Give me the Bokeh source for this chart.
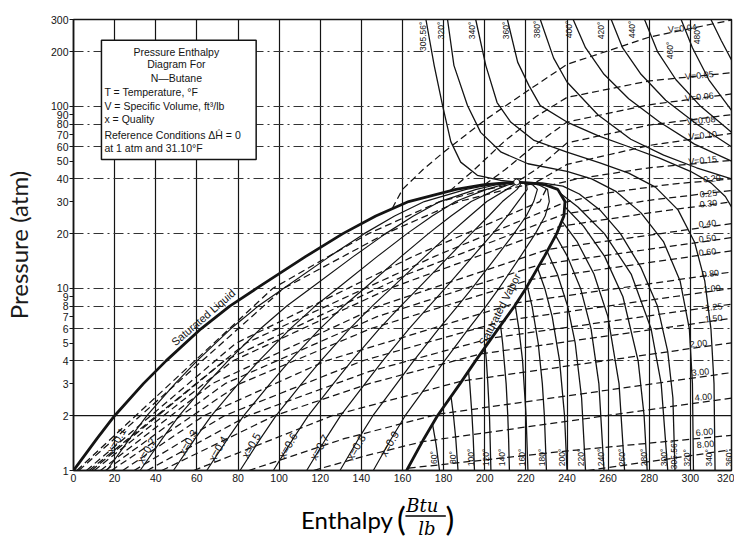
import numpy as np
from bokeh.plotting import figure
from bokeh.layouts import column
from bokeh.models import Range1d, FixedTicker, Label, NumeralTickFormatter, Span
from bokeh.embed import file_html
from bokeh.resources import INLINE

# ---------------- data ----------------
# saturation dome: pressure (atm), enthalpy of saturated liquid / vapor (Btu/lb)
P_SAT = [1, 1.5, 2, 3, 4, 6, 8, 10, 15, 20, 25, 30, 35, 37, 37.8, 38.4]
H_LIQ = [0, 11.5, 20, 34, 45, 62, 76, 89, 113, 131, 147, 163, 186, 199, 207, 215]
H_VAP = [162, 170.5, 177, 188, 195.5, 206.5, 214.5, 220, 229, 235, 238.5, 239, 235.5, 229.5, 224, 215.5]
CRIT_H = [215.5]
CRIT_P = [38.4]

# quality lines
QUALITY = [0.1, 0.2, 0.3, 0.4, 0.5, 0.6, 0.7, 0.8, 0.9]
QUALITY_TEXT = ["x=0.1", "x=0.2", "x=0.3", "x=0.4", "x=0.5", "x=0.6", "x=0.7", "x=0.8", "x=0.9"]

# isotherms starting on the saturated-vapor line (deg F)
T_SUB = ["60°", "80°", "100°", "120°", "140°", "160°", "180°", "200°", "220°", "240°", "260°", "280°", "300°"]
T_SUB_H = [
    [174.6, 176.3, 178],
    [183.6, 184.8, 185.9, 187],
    [192.1, 192.7, 193.8, 194.4, 195],
    [200.2, 200.8, 201.5, 202.3, 202.6, 203],
    [207.7, 208.7, 210.4, 211.2, 211.6, 212],
    [214.8, 216.6, 218.4, 220.1, 221],
    [220.7, 223, 226, 228, 229, 230],
    [225.7, 229.2, 232.8, 236.4, 238.8, 240],
    [230.3, 235.3, 240.3, 244, 247.1, 249],
    [234.5, 240.2, 246.6, 251.7, 255.5, 258],
    [237.5, 245, 253.1, 259.9, 265.3, 268],
    [238.8, 248, 258.3, 267.2, 274.6, 277.5, 279],
    [236.5, 245.3, 258.2, 271.2, 280.9, 285.8, 289],
]
T_SUB_P = [
    [1.8, 1.4, 1],
    [2.55, 2, 1.5, 1],
    [3.51, 3, 2, 1.5, 1],
    [4.75, 4, 3, 2, 1.5, 1],
    [6.26, 5, 3, 2, 1.5, 1],
    [8.1, 6, 4, 2, 1],
    [10.3, 8, 5, 3, 2, 1],
    [12.9, 10, 7, 4, 2, 1],
    [16, 12, 8, 5, 2.5, 1],
    [19.5, 15, 10, 6, 3, 1],
    [23.5, 18, 12, 7, 3, 1],
    [28.2, 22, 15, 9, 4, 2, 1],
    [33.4, 28, 20, 12, 6, 3, 1],
]

# critical and supercritical isotherms
T_SUP = ["305.56°", "320°", "340°", "360°", "380°", "400°", "420°", "440°", "460°", "480°"]
T_SUP_H = [
    [171.4, 175.4, 179.5, 183.5, 188.3, 196.4, 207.8, 215.5, 228, 238, 246, 256, 266, 276, 284, 289, 291.5, 292.5],
    [181.9, 185, 191.6, 198, 208, 221, 240, 252, 264, 276, 287, 295, 299.5, 301, 301.5],
    [195.6, 200.5, 206, 212.6, 224, 240, 256, 270, 283, 294, 302, 307, 310, 311.5, 312],
    [211, 216, 221.5, 227, 240, 255, 270, 285, 300, 310, 317, 320],
    [227, 233.5, 240, 255, 271, 287, 303, 320],
    [243, 249, 258, 270, 285, 302, 320],
    [261.5, 267, 276, 288, 303, 320],
    [277.7, 284, 293, 305, 320],
    [295.5, 301, 309, 320],
    [310, 315, 320],
]
T_SUP_P = [
    [300, 168, 101, 64, 49.4, 41.8, 39.2, 38.4, 38.0, 36.5, 33, 27, 20, 13, 8, 4.5, 2.5, 1],
    [300, 168, 101, 72, 56, 48.4, 44, 40, 34, 26, 18, 11, 6, 3, 1],
    [300, 168, 105, 82, 65, 56, 49, 43, 36, 27, 18, 11, 6, 3, 1],
    [300, 175, 130, 101, 82, 69, 60, 52, 44, 38, 32, 28],
    [300, 184, 136, 90, 66, 54, 46, 40],
    [300, 210, 150, 110, 82, 62, 50],
    [300, 210, 150, 108, 80, 60],
    [300, 200, 140, 100, 72],
    [300, 210, 140, 95],
    [300, 230, 180],
]

# specific volume lines (ft3/lb): two-phase part as (pressure, quality), then vapor part as (h, P)
V_TEXT = ["V=0.04", "V=0.05", "V=0.06", "V=0.08", "V=0.10", "V=0.15", "0.20", "0.25", "0.30", "0.40",
          "0.50", "0.60", "0.80", "1.00", "1.25", "1.50", "2.00", "3.00", "4.00", "6.00", "8.00"]
V_TP_P = [[], [], [],
          [1, 10, 20, 30, 35, 37.8, 38.4],
          [1, 10, 20, 30, 35, 37.8],
          [1, 5, 15, 30, 36.6],
          [1, 5, 15, 29.7],
          [1, 4, 12, 25.6],
          [1, 4, 10, 21.9],
          [1, 3, 8, 16.4],
          [1, 3, 7, 13.5],
          [1, 3, 6, 11.2],
          [1, 2, 4, 8.34],
          [1, 2, 4, 6.64],
          [1, 2, 3.5, 5.34],
          [1, 2, 3, 4.37],
          [1, 2, 3.1],
          [1, 1.5, 2.04],
          [1, 1.2, 1.44],
          [], []]
V_TP_X = [[], [], [],
          [0.01, 0.06, 0.12, 0.2, 0.3, 0.5, 1.0],
          [0.016, 0.1, 0.2, 0.32, 0.5, 1.0],
          [0.039, 0.167, 0.45, 0.84, 1.0],
          [0.047, 0.2, 0.54, 1.0],
          [0.054, 0.188, 0.506, 1.0],
          [0.062, 0.216, 0.494, 1.0],
          [0.081, 0.217, 0.524, 1.0],
          [0.096, 0.258, 0.553, 1.0],
          [0.114, 0.305, 0.57, 1.0],
          [0.148, 0.277, 0.516, 1.0],
          [0.182, 0.34, 0.634, 1.0],
          [0.221, 0.413, 0.684, 1.0],
          [0.265, 0.495, 0.713, 1.0],
          [0.361, 0.674, 1.0],
          [0.526, 0.758, 1.0],
          [0.72, 0.849, 1.0],
          [], []]
V_VAP_H = [[155, 160, 170, 180, 200, 220, 240, 280, 320],
           [183, 195, 210, 225, 240, 280, 320],
           [200, 210, 225, 240, 280, 320],
           [225, 240, 280, 320],
           [240, 280, 320],
           [245, 280, 320],
           [260, 290, 320],
           [280, 320],
           [280, 320],
           [320], [320], [320], [320], [320], [320], [320], [320], [320], [320],
           [163, 240, 320],
           [250, 320]]
V_VAP_P = [[27.5, 35, 45, 56, 84, 120, 170, 240, 298],
           [34.3, 45, 65, 88, 112, 138, 153],
           [37.2, 45, 62, 82, 102, 117],
           [45, 63, 79, 90],
           [48, 61, 71],
           [40, 46, 50.5],
           [33.5, 37.3, 40],
           [30.5, 34.5],
           [26, 29.9],
           [22.7], [19], [16.1], [12.3], [10], [8.2], [6.85], [5.03], [3.45], [2.5],
           [1.03, 1.28, 1.56],
           [1.0, 1.3]]

X_TICKS = list(range(0, 321, 20))
Y_TICKS = [1, 2, 3, 4, 5, 6, 7, 8, 9, 10, 20, 30, 40, 50, 60, 70, 80, 90, 100, 200, 300]
Y_GRID = [4, 6, 8, 10, 20, 40, 60, 80, 100, 200]

BOX_TEXT = ["Pressure Enthalpy", "Diagram For", "N\u2014Butane", "T = Temperature, °F",
            "V = Specific Volume, ft³/lb", "x = Quality", "Reference Conditions  \u0394\u0124 = 0",
            "at 1 atm and 31.10°F"]

# ---------------- helpers (reference-pixel -> data coords, for annotation placement) ----------------
def hx(px):
    return (px - 72.0) / 2.06


def py(pyv):
    return 10 ** ((470.0 - pyv) / 182.0)


LOGP = np.log10(P_SAT)


def h_liq(p):
    return float(np.interp(np.log10(p), LOGP, H_LIQ))


def h_vap(p):
    return float(np.interp(np.log10(p), LOGP, H_VAP))


INK = "#141414"
FS = "Liberation Sans"
MAIN_H = 490

p = figure(width=734, height=MAIN_H, x_range=Range1d(0, 320), y_range=Range1d(1, 300),
           y_axis_type="log", output_backend="svg", toolbar_location=None,
           min_border_left=72, min_border_right=3, min_border_top=19, min_border_bottom=20)
p.background_fill_color = "white"
p.border_fill_color = "white"
p.outline_line_color = INK
p.outline_line_width = 1.5

# axes
p.xaxis.ticker = FixedTicker(ticks=X_TICKS)
p.yaxis.ticker = FixedTicker(ticks=Y_TICKS)
p.yaxis.formatter = NumeralTickFormatter(format="0")
for ax in (p.xaxis[0], p.yaxis[0]):
    ax.axis_line_color = INK
    ax.axis_line_width = 1.5
    ax.major_tick_line_color = INK
    ax.minor_tick_line_color = None
    ax.major_label_text_color = INK
    ax.major_label_text_font = FS
    ax.major_tick_in = 0
p.xaxis.major_tick_out = 0
p.xaxis.major_label_standoff = 3
p.xaxis.major_label_text_font_size = "10.5px"
p.yaxis.major_tick_out = 4
p.yaxis.major_label_standoff = 1
p.yaxis.major_label_text_font_size = "10.5px"
p.yaxis.axis_label = "Pressure (atm)"
p.yaxis.axis_label_text_font = "Lato"
p.yaxis.axis_label_text_font_size = "24px"
p.yaxis.axis_label_text_font_style = "normal"
p.yaxis.axis_label_text_color = "#1a1a1a"
p.yaxis.axis_label_standoff = 15

# grid
p.xgrid.ticker = FixedTicker(ticks=X_TICKS[1:])
p.xgrid.grid_line_color = INK
p.xgrid.grid_line_width = 1.2
p.ygrid.ticker = FixedTicker(ticks=Y_GRID)
p.ygrid.grid_line_color = "#333333"
p.ygrid.grid_line_width = 1
p.ygrid.grid_line_dash = "10 4 2 4"
p.add_layout(Span(location=2, dimension="width", line_color=INK, line_width=1.2))

# legend box
p.quad(left=[hx(100)], right=[hx(255)], bottom=[py(159)], top=[py(40)],
       fill_color="white", line_color=INK, line_width=1.5)
box_y = [51.7, 64, 78, 92, 106, 119, 135, 148]
for i, t in enumerate(BOX_TEXT):
    if i < 3:
        p.add_layout(Label(x=hx(175), y=py(box_y[i]), text=t, text_align="center", text_baseline="middle",
                           text_font=FS, text_font_size="10.5px", text_color=INK))
    else:
        p.add_layout(Label(x=hx(103), y=py(box_y[i]), text=t, text_align="left", text_baseline="middle",
                           text_font=FS, text_font_size="10.5px", text_color=INK))

# specific-volume lines (dashed)
for i in range(len(V_TEXT)):
    hs, ps = [], []
    for pp, xx in zip(V_TP_P[i], V_TP_X[i]):
        hl, hv = h_liq(pp), h_vap(pp)
        hs.append(hl + xx * (hv - hl))
        ps.append(pp)
    hs += V_VAP_H[i]
    ps += V_VAP_P[i]
    p.line(hs, ps, line_color=INK, line_width=1.25, line_dash="7 4")

# quality lines
for q in QUALITY:
    hs = [hl + q * (hv - hl) for hl, hv in zip(H_LIQ, H_VAP)]
    p.line(hs, P_SAT, line_color=INK, line_width=1.2)

# isotherms
for hs, ps in zip(T_SUB_H, T_SUB_P):
    p.line(hs, ps, line_color=INK, line_width=1.3)
for hs, ps in zip(T_SUP_H, T_SUP_P):
    p.line(hs, ps, line_color=INK, line_width=1.3)

# saturation dome
p.line(H_LIQ, P_SAT, line_color=INK, line_width=2.8)
p.line(H_VAP, P_SAT, line_color=INK, line_width=2.8)
p.scatter(CRIT_H, CRIT_P, size=6, fill_color="white", line_color=INK, line_width=1)

# ---------------- in-chart labels ----------------
q_pos = [(115, 440), (145, 450), (186.7, 441.7), (216.7, 448.3), (250, 445), (286.7, 445),
         (318.3, 446.7), (355, 446.7), (388.3, 443.3)]
for t, (qx, qy) in zip(QUALITY_TEXT, q_pos):
    p.add_layout(Label(x=hx(qx), y=py(qy), text=t, angle=1.05, text_align="center", text_baseline="middle",
                       text_font=FS, text_font_size="11px", text_color=INK))

p.add_layout(Label(x=hx(202), y=py(317), text="Saturated Liquid", angle=0.71, text_align="center",
                   text_baseline="middle", text_font=FS, text_font_size="11px", text_color=INK))
p.add_layout(Label(x=hx(499), y=py(309), text="Saturated Vapor", angle=1.10, text_align="center",
                   text_baseline="middle", text_font=FS, text_font_size="11px", text_color=INK))

bottom_x = [432.7, 451.7, 470, 485, 501.7, 521.7, 541.7, 561.7, 580, 600.7, 621.7, 643.3, 663.3]
for t, bx in zip(T_SUB, bottom_x):
    p.add_layout(Label(x=hx(bx), y=py(457), text=t, angle=np.pi / 2, text_align="center",
                       text_baseline="middle", text_font=FS, text_font_size="8.5px", text_color=INK))
sup_bottom = [(673.3, 454), (686.7, 457.3), (708.3, 457.3), (728.3, 457.3)]
for t, (bx, by) in zip(T_SUP[:4], sup_bottom):
    p.add_layout(Label(x=hx(bx), y=py(by), text=t, angle=np.pi / 2, text_align="center",
                       text_baseline="middle", text_font=FS, text_font_size="8.5px", text_color=INK))
top_pos = [(421.7, 36), (440, 30), (471.7, 30), (505, 30), (536.7, 29), (568.3, 29), (600, 30),
           (631.7, 29), (670, 50), (696.7, 35)]
for t, (tx, ty) in zip(T_SUP, top_pos):
    p.add_layout(Label(x=hx(tx), y=py(ty), text=t, angle=np.pi / 2, text_align="center",
                       text_baseline="middle", text_font=FS, text_font_size="8.5px", text_color=INK))

v_pos = [(682, 28), (699, 75), (699, 96.7), (700.7, 120), (702.3, 135), (702.3, 160), (711.7, 178.3),
         (708, 193.3), (708, 203.3), (707, 223.3), (707, 238.3), (707, 251.7), (710, 273.3),
         (711.7, 288.3), (713.3, 306.7), (713.3, 318.3), (698, 343.3), (700, 371.7), (703, 396.7),
         (704, 431.7), (705, 444)]
for t, (vx, vy) in zip(V_TEXT, v_pos):
    p.add_layout(Label(x=hx(vx), y=py(vy), text=t, angle=0.1, text_align="center",
                       text_baseline="middle", text_font=FS, text_font_size="9px", text_color=INK))

# ---------------- x-axis title strip: Enthalpy (Btu / lb) ----------------
# its frame is aligned with the main frame horizontally, so the same x range is used
CAP_H = 540 - MAIN_H
cap = figure(width=734, height=CAP_H, x_range=Range1d(0, 320), y_range=Range1d(0, CAP_H),
             x_axis_type=None, y_axis_type=None, output_backend="svg", toolbar_location=None,
             min_border_left=72, min_border_right=3, min_border_top=0, min_border_bottom=0)
cap.outline_line_color = None
cap.grid.visible = False
cap.background_fill_color = "white"
cap.border_fill_color = "white"


def cy(sy):
    return 540.0 - sy


cap.add_layout(Label(x=hx(300), y=cy(518.5), text="Enthalpy", text_align="left", text_baseline="middle",
                     text_font="Lato", text_font_size="24px", text_color="black"))
cap.add_layout(Label(x=hx(400.5), y=cy(517), text="(", text_align="center", text_baseline="middle",
                     text_font="Lato", text_font_size="33px", text_color="black"))
cap.add_layout(Label(x=hx(449), y=cy(517), text=")", text_align="center", text_baseline="middle",
                     text_font="Lato", text_font_size="33px", text_color="black"))
cap.add_layout(Label(x=hx(421.5), y=cy(505), text="Btu", text_align="center", text_baseline="middle",
                     text_font="DejaVu Serif", text_font_style="italic", text_font_size="18px",
                     text_color="black"))
cap.add_layout(Label(x=hx(426), y=cy(527.5), text="lb", text_align="center", text_baseline="middle",
                     text_font="DejaVu Serif", text_font_style="italic", text_font_size="18px",
                     text_color="black"))
cap.segment(x0=[hx(404.5)], x1=[hx(445)], y0=[cy(515.5)], y1=[cy(515.5)], line_color="black", line_width=1.4)

layout = column(p, cap, spacing=0)
open("out.html", "w").write(file_html(layout, INLINE))
